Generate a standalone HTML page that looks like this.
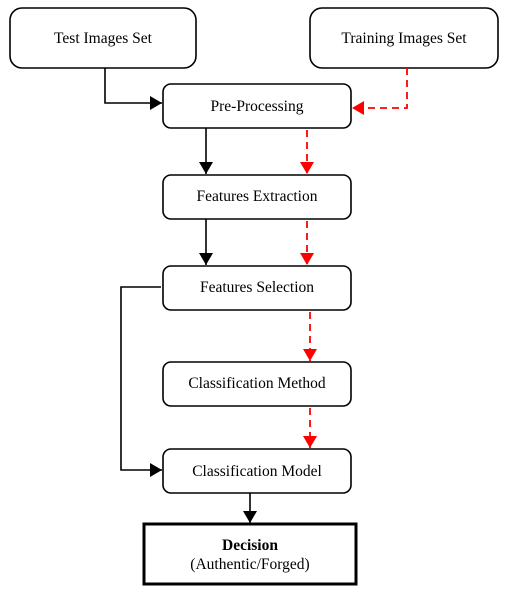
<!DOCTYPE html>
<html><head><style>body{margin:0;background:#fff}</style></head><body>
<svg width="522" height="596" xmlns="http://www.w3.org/2000/svg" font-family="Liberation Serif, serif" font-size="15.5" text-anchor="middle">
<defs>
<marker id="b" markerWidth="12" markerHeight="14" refX="12" refY="7" orient="auto" markerUnits="userSpaceOnUse"><path d="M0,0L12,7L0,14z" fill="#000"/></marker>
<marker id="r" markerWidth="12" markerHeight="14" refX="12" refY="7" orient="auto" markerUnits="userSpaceOnUse"><path d="M0,0L12,7L0,14z" fill="#f00"/></marker>
</defs>
<g fill="none" stroke="#000" stroke-width="1.6">
<rect x="10" y="8" width="186" height="60" rx="12"/>
<rect x="310" y="8" width="188" height="60" rx="12"/>
<rect x="163" y="84" width="188" height="44" rx="8"/>
<rect x="163" y="175" width="188" height="44" rx="8"/>
<rect x="163" y="266" width="188" height="44" rx="8"/>
<rect x="163" y="362" width="188" height="44" rx="8"/>
<rect x="163" y="449" width="188" height="44" rx="8"/>
<rect x="144" y="524" width="212" height="60" stroke-width="3"/>
<path d="M105,68V103H162" marker-end="url(#b)"/>
<path d="M206,128V174" marker-end="url(#b)"/>
<path d="M206,219V265" marker-end="url(#b)"/>
<path d="M161,287H121V470H162" marker-end="url(#b)"/>
<path d="M250,493V523" marker-end="url(#b)"/>
</g>
<g fill="none" stroke="#f00" stroke-width="1.8" stroke-dasharray="7,5">
<path d="M407,68V108H352" marker-end="url(#r)"/>
<path d="M307,130V174" marker-end="url(#r)"/>
<path d="M307,221V265" marker-end="url(#r)"/>
<path d="M310,312V361" marker-end="url(#r)"/>
<path d="M310,408V448" marker-end="url(#r)"/>
</g>
<text x="103" y="43">Test Images Set</text>
<text x="404" y="43">Training Images Set</text>
<text x="257" y="111">Pre-Processing</text>
<text x="257" y="201">Features Extraction</text>
<text x="257" y="292">Features Selection</text>
<text x="257" y="388">Classification Method</text>
<text x="257" y="476">Classification Model</text>
<text x="250" y="550" font-weight="bold">Decision</text>
<text x="250" y="569">(Authentic/Forged)</text>
</svg>
</body></html>
